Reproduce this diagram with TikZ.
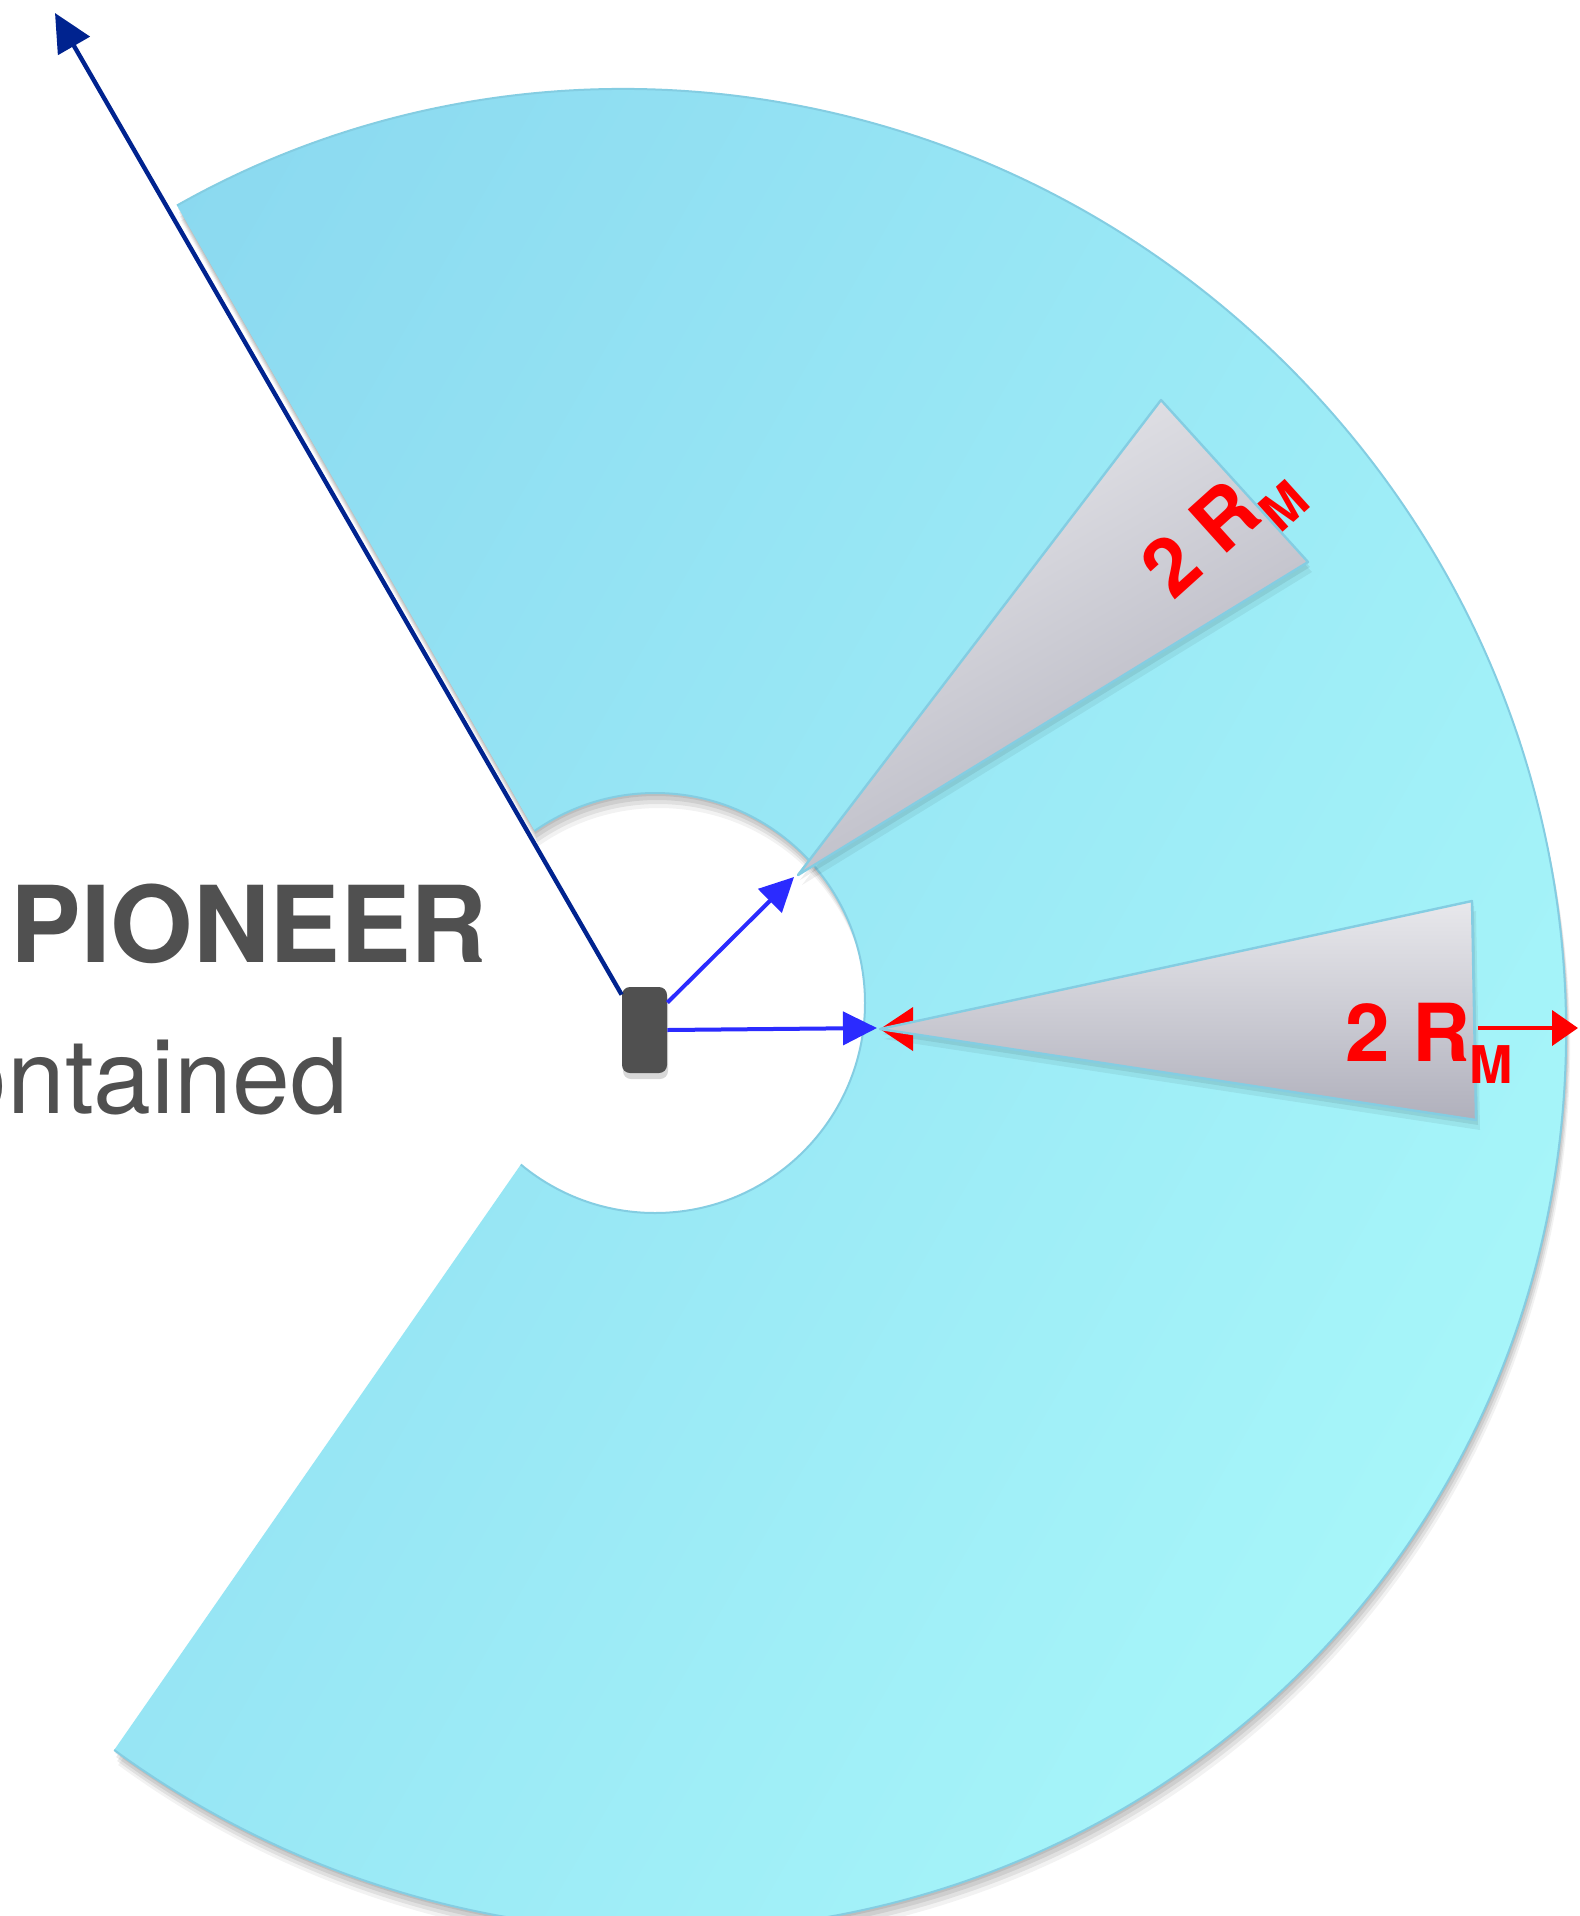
\documentclass[tikz,border=0pt]{standalone}
\usepackage{fontspec}
\setmainfont{TeX Gyre Heros}
\usetikzlibrary{arrows.meta,calc,shadows}
\definecolor{ringL}{HTML}{88D6EF}
\definecolor{ringR}{HTML}{A8F7FA}
\definecolor{ringEdge}{HTML}{84CDE2}
\definecolor{triL}{HTML}{E8E8EC}
\definecolor{triD}{HTML}{B0B0BC}
\definecolor{txtGray}{HTML}{505050}
\definecolor{navyA}{HTML}{00238F}
\definecolor{blueA}{HTML}{2B2BFF}
\definecolor{redA}{HTML}{FF0000}
\begin{document}
\begin{tikzpicture}[x=0.5pt,y=-0.5pt,
  wedgepath/.style={insert path={(633,1003) -- (-857,-1603) -- (3000,-1603) -- (3000,3468) -- (-1079,3468) -- cycle}},
  ringpath/.style={insert path={(645,1010) circle[x radius=932, y radius=910, rotate=-45] (655,1003) circle[radius=210]}},
  lbl/.style={text=redA, font=\fontsize{40}{40}\selectfont\bfseries, inner sep=0pt},
  edgeline/.style={ringEdge, line width=1.2pt, line join=round},
  bluearrow/.style={blueA, line width=2pt, -{Triangle[length=17pt,width=16.5pt]}},
  navyarrow/.style={navyA, line width=2.2pt, -{Triangle[length=19pt,width=18pt]}},
  redarrow/.style={redA, line width=2pt, -{Triangle[length=13pt,width=17.5pt]}},
  graytext/.style={text=txtGray, inner sep=0pt, anchor=base west}
]
\useasboundingbox (0,0) rectangle (1579,1916);
\clip (0,0) rectangle (1579,1916);
\fill[white] (0,0) rectangle (1579,1916);

% ring shadow
\foreach \dx/\dy/\op in {1/3/0.08, 2/7/0.08, 3/11/0.07, 4/15/0.05} {
  \begin{scope}[shift={(\dx,\dy)}]
    \clip[wedgepath];
    \fill[black, opacity=\op, even odd rule, ringpath];
  \end{scope}
}
% ring
\begin{scope}
  \clip[wedgepath];
  \shade[even odd rule, left color=ringL, right color=ringR, shading angle=60, ringpath];
  \draw[ringEdge, line width=1pt, ringpath];
\end{scope}

% triangles
\coordinate (t1a) at (798,875);
\coordinate (t1b) at (1161,400);
\coordinate (t1c) at (1308,562);
\coordinate (t2a) at (880,1029);
\coordinate (t2b) at (1472,901);
\coordinate (t2c) at (1476,1120);

\foreach \dx/\dy/\op in {2/5/0.07, 4/10/0.06} {
  \fill[black, opacity=\op] ([shift={(\dx,\dy)}]t1a) -- ([shift={(\dx,\dy)}]t1b) -- ([shift={(\dx,\dy)}]t1c) -- cycle;
  \fill[black, opacity=\op] ([shift={(\dx,\dy)}]t2a) -- ([shift={(\dx,\dy)}]t2b) -- ([shift={(\dx,\dy)}]t2c) -- cycle;
}
\fill[redA] (t2a) -- (913,1007) -- (913,1051) -- cycle;
\shade[top color=triL, bottom color=triD, shading angle=30] (t1a) -- (t1b) -- (t1c) -- cycle;
\draw[edgeline] (t1a) -- (t1b) -- (t1c) -- cycle;
\shade[top color=triL, bottom color=triD] (t2a) -- (t2b) -- (t2c) -- cycle;
\draw[edgeline] (t2a) -- (t2b) -- (t2c) -- cycle;

% labels
\node[lbl, rotate=42, anchor=base west] (lab1) at (1173,602) {2 R\raisebox{-11pt}{\fontsize{26}{26}\selectfont M}};
\node[lbl, anchor=base west] (lab2) at (1345,1061) {2 R\raisebox{-11pt}{\fontsize{26}{26}\selectfont M}};
\coordinate (rs) at (1478,1028);
\coordinate (re) at (1578,1028);
\draw[redarrow] (rs) -- (re);

% detector and arrows
\node[fill=txtGray, rounded corners=4pt, minimum width=22.5pt, minimum height=43pt, inner sep=0pt,
      drop shadow={shadow xshift=0.5pt, shadow yshift=-3pt, opacity=0.3}] (det) at (644.5,1030) {};
\coordinate (tipH) at (877,1028);
\coordinate (tipD) at (794,877);
\coordinate (tipN) at (55,13);
\draw[bluearrow] (det.east) -- (tipH);
\draw[bluearrow] ($(det.north east)+(0,16)$) -- (tipD);
\draw[navyarrow] ($(det.north west)+(0,8)$) -- (tipN);

% texts
\node[graytext, font=\fontsize{53}{53}\selectfont\bfseries] (pio) at (10,962) {PIONEER};
\node[graytext, font=\fontsize{52}{52}\selectfont] (cont) at (-103,1113) {contained};
\end{tikzpicture}
\end{document}
